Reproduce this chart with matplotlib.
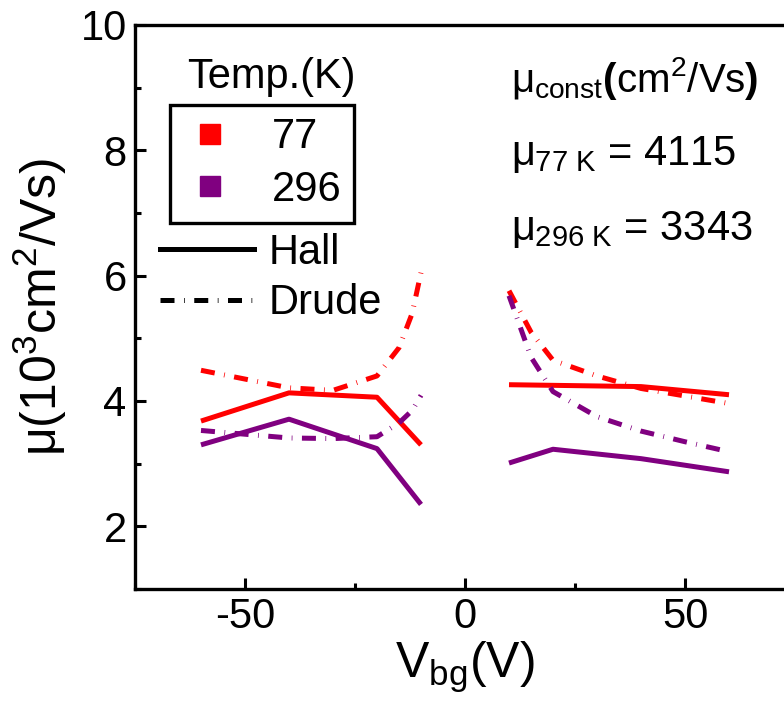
import matplotlib

matplotlib.use("Agg")
import matplotlib.pyplot as plt
from matplotlib.lines import Line2D
from matplotlib.ticker import MultipleLocator

RED = "#ff0000"
PURPLE = "#800080"

# Hall mobility (10^3 cm^2/Vs), hole side and electron side
vg_hall_neg = [-60, -40, -20, -10]
vg_hall_pos = [10, 20, 40, 60]
hall77_neg = [3.68, 4.13, 4.06, 3.30]
hall77_pos = [4.26, 4.25, 4.23, 4.10]
hall296_neg = [3.30, 3.71, 3.24, 2.35]
hall296_pos = [3.01, 3.23, 3.08, 2.87]

# Drude mobility
vg_drude_neg = [-60, -50, -40, -30, -20, -15, -12, -10]
vg_drude_pos = [10, 15, 20, 30, 40, 50, 60]
drude77_neg = [4.49, 4.35, 4.21, 4.17, 4.40, 4.85, 5.40, 6.05]
drude77_pos = [5.76, 5.10, 4.65, 4.40, 4.20, 4.08, 3.96]
drude296_neg = [3.53, 3.47, 3.41, 3.40, 3.43, 3.65, 3.85, 4.09]
drude296_pos = [5.68, 4.70, 4.15, 3.75, 3.52, 3.35, 3.19]

temps = ["77", "296"]
mu_const = {"77 K": 4115, "296 K": 3343}

plt.rcParams["font.family"] = ["Liberation Sans", "DejaVu Sans"]
plt.rcParams["mathtext.fontset"] = "custom"
plt.rcParams["mathtext.rm"] = "Liberation Sans"
plt.rcParams["mathtext.it"] = "Liberation Sans"
plt.rcParams["mathtext.bf"] = "Liberation Sans:bold"
plt.rcParams["axes.unicode_minus"] = False

FS = 30
LW = 3.6
DRUDE_LS = (0, (2.8, 1.9, 0.15, 1.9))

fig = plt.figure(figsize=(7.84, 7.15), dpi=100)
ax = fig.add_axes([135 / 784, 1 - 589 / 715, 660 / 784, (589 - 25) / 715])

for xs, ys, c in [
    (vg_hall_neg, hall77_neg, RED),
    (vg_hall_pos, hall77_pos, RED),
    (vg_hall_neg, hall296_neg, PURPLE),
    (vg_hall_pos, hall296_pos, PURPLE),
]:
    ax.plot(xs, ys, color=c, lw=LW, solid_capstyle="butt")

for xs, ys, c in [
    (vg_drude_neg, drude77_neg, RED),
    (vg_drude_pos, drude77_pos, RED),
    (vg_drude_neg, drude296_neg, PURPLE),
    (vg_drude_pos, drude296_pos, PURPLE),
]:
    ax.plot(xs, ys, color=c, lw=LW, ls=DRUDE_LS, dash_capstyle="butt")

ax.set_xlim(-75, 75)
ax.set_ylim(1, 10)
ax.xaxis.set_major_locator(MultipleLocator(50))
ax.xaxis.set_minor_locator(MultipleLocator(25))
ax.yaxis.set_major_locator(MultipleLocator(2))
ax.yaxis.set_minor_locator(MultipleLocator(1))
ax.set_yticks([2, 4, 6, 8, 10])
ax.tick_params(which="major", direction="in", length=8, width=2.2, labelsize=FS, pad=6)
ax.tick_params(which="minor", direction="in", length=4, width=2.2)
ax.tick_params(top=False, right=False)
for s in ax.spines.values():
    s.set_linewidth(2.4)

ax.set_xlabel(r"V$_{\mathrm{bg}}$(V)", fontsize=36, labelpad=2)
ax.set_ylabel(r"$\mu$(10$^3$cm$^2$/Vs)", fontsize=36, labelpad=8)

# temperature legend (boxed)
fig.text(187 / 784, 1 - 88 / 715, "Temp.(K)", fontsize=FS, va="baseline")
h1 = [Line2D([], [], marker="s", ls="none", color=c, markersize=15) for c in (RED, PURPLE)]
leg1 = ax.legend(
    h1, temps, loc="upper left", bbox_to_anchor=(170 / 784, 1 - 105 / 715),
    bbox_transform=fig.transFigure, fontsize=FS, frameon=True, fancybox=False,
    edgecolor="black", framealpha=1, borderpad=0.3, borderaxespad=0,
    handlelength=1.3, handletextpad=0.85, labelspacing=0.3,
)
leg1.get_frame().set_linewidth(2.4)
ax.add_artist(leg1)

# line-style legend
h2 = [
    Line2D([], [], color="black", lw=LW),
    Line2D([], [], color="black", lw=LW, ls=DRUDE_LS, dash_capstyle="butt"),
]
ax.legend(
    h2, ["Hall", "Drude"], loc="upper left", bbox_to_anchor=(160 / 784, 1 - 233 / 715),
    bbox_transform=fig.transFigure, fontsize=FS, frameon=False, borderpad=0,
    borderaxespad=0, handlelength=2.25, handletextpad=0.35, labelspacing=0.25,
)

# constant-mobility annotations
fig.text(511 / 784, 1 - 92 / 715, r"$\mu_{\mathrm{const}}$$\mathbf{(}$cm$^2$/Vs$\mathbf{)}$",
         fontsize=FS - 1, va="baseline")
for i, (k, v) in enumerate(mu_const.items()):
    fig.text(511 / 784, 1 - (165 + 75 * i) / 715,
             r"$\mu_{\mathrm{" + k.replace(" ", r"\ ") + "}}$ = " + str(v),
             fontsize=FS, va="baseline")

fig.savefig("out.png", dpi=100)
